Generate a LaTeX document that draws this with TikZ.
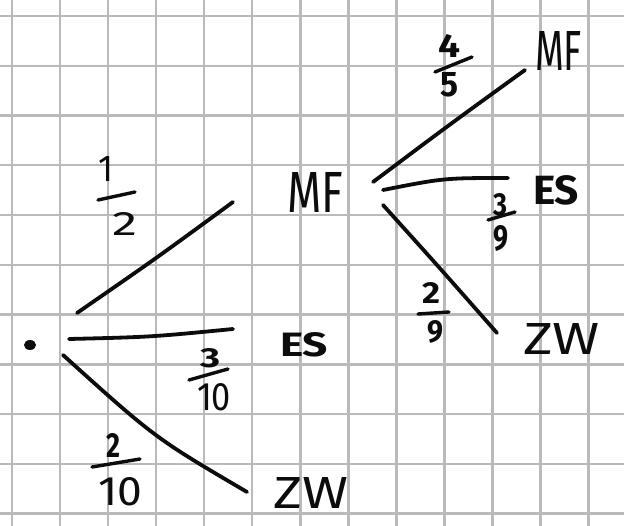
\documentclass[tikz,border=0pt]{standalone}
\usepackage{fontspec}
\setmainfont{Fira Sans}
\usepackage{graphicx}
\usetikzlibrary{shapes.geometric}
\definecolor{gridgray}{RGB}{186,186,186}
\definecolor{inkc}{RGB}{12,12,12}
\begin{document}
\begin{tikzpicture}[x=1pt,y=-1pt,
  gridline/.style={draw=gridgray,line width=2.4pt},
  ink/.style={draw=inkc,line width=3.8pt,line cap=round,line join=round},
  hw/.style={inner sep=0pt,outer sep=0pt,anchor=north west,text=inkc},
  hwb/.style={hw,font=\bfseries},
  fracbar/.style={draw=inkc,line width=3.4pt,line cap=round}]
\fill[white] (0,0) rectangle (624,526);
\useasboundingbox (0,0) rectangle (624,526);
% grid
\foreach \i in {0,...,12} \draw[gridline] ({12+48.05*\i},0) -- ({12+48.05*\i},526);
\foreach \j in {0,...,10} \draw[gridline] (0,{16+49.76*\j}) -- (624,{16+49.76*\j});

% root
\node[ellipse,fill=inkc,minimum width=12pt,minimum height=10pt,inner sep=0pt] (a) at (30,345) {};

% first level leaves
\node[hw] (mf1) at (287,172) {\resizebox{56pt}{40pt}{MF}};
\node[hwb] (es1) at (280,332) {\resizebox{48pt}{24pt}{ES}};
\node[hw] (zw1) at (273,477) {\resizebox{75pt}{31pt}{ZW}};

% second level leaves
\node[hw] (mf2) at (535,31) {\resizebox{47pt}{39pt}{MF}};
\node[hwb] (es2) at (533,176) {\resizebox{46pt}{29pt}{ES}};
\node[hw] (zw2) at (523,323) {\resizebox{77pt}{31pt}{ZW}};

% branch end points and control points
\coordinate (a1s) at (77,313);  \coordinate (a1c) at (158,257); \coordinate (a1e) at (233,202);
\coordinate (a2s) at (69,339);  \coordinate (a2c) at (151,337); \coordinate (a2e) at (233,329);
\coordinate (a3s) at (63,355);  \coordinate (a3c) at (155,438); \coordinate (a3e) at (247,492);
\coordinate (b1s) at (373,182); \coordinate (b1c) at (449,125); \coordinate (b1e) at (525,70);
\coordinate (b2s) at (383,190); \coordinate (b2c) at (444,178); \coordinate (b2e) at (508,178);
\coordinate (b3s) at (383,205); \coordinate (b3c) at (438,266); \coordinate (b3e) at (497,333);

\draw[ink] (a1s) .. controls (a1c) .. (a1e);
\draw[ink] (a2s) .. controls (a2c) .. (a2e);
\draw[ink] (a3s) .. controls (a3c) .. (a3e);
\draw[ink] (b1s) .. controls (b1c) .. (b1e);
\draw[ink] (b2s) .. controls (b2c) .. (b2e);
\draw[ink] (b3s) .. controls (b3c) .. (b3e);

% fractions, first level
\node[hw] (n12) at (98,157) {\resizebox{15pt}{25pt}{1}};
\draw[fracbar] (98,200) -- (135,192);
\node[hw] (d12) at (112,212) {\resizebox{25pt}{23pt}{2}};

\node[hwb] (n310) at (200,348) {\resizebox{20pt}{19pt}{3}};
\draw[fracbar] (189,380) -- (228,369);
\node[hw] (d310) at (197,383) {\resizebox{34pt}{27pt}{10}};

\node[hwb] (n210) at (106,433) {\resizebox{14pt}{24pt}{2}};
\draw[fracbar] (92,467) -- (140,459);
\node[hw] (d210) at (98,477) {\resizebox{44pt}{28pt}{10}};

% fractions, second level
\node[hwb] (n45) at (438,35) {\resizebox{22pt}{23pt}{4}};
\draw[fracbar] (435,72) -- (472,57);
\node[hwb] (d45) at (440,73) {\resizebox{18pt}{24pt}{5}};

\node[hwb] (n39) at (493,193) {\resizebox{14pt}{22pt}{3}};
\draw[fracbar] (488,220) -- (515,212);
\node[hwb] (d39) at (493,225) {\resizebox{15pt}{25pt}{9}};

\node[hwb] (n29) at (422,282) {\resizebox{18pt}{21pt}{2}};
\draw[fracbar] (418,314) -- (449,312);
\node[hwb] (d29) at (427,320) {\resizebox{16pt}{22pt}{9}};
\end{tikzpicture}
\end{document}
